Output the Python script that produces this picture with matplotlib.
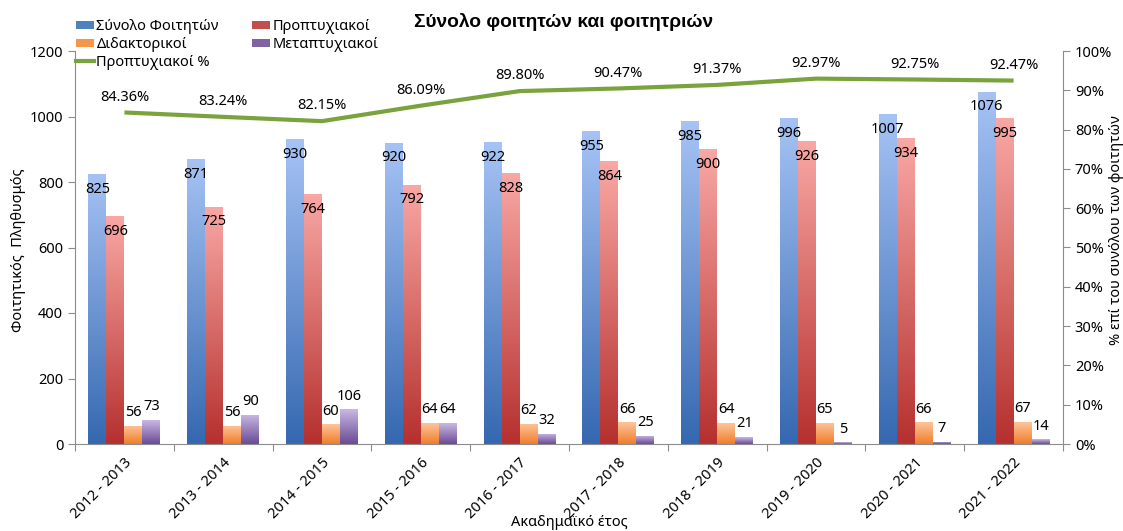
import numpy as np
import matplotlib
matplotlib.use('Agg')
from matplotlib import pyplot as plt
from matplotlib.colors import LinearSegmentedColormap
from matplotlib.patches import Patch
from matplotlib.lines import Line2D
from matplotlib.ticker import PercentFormatter, MultipleLocator

plt.rcParams['font.family'] = ['Noto Sans', 'DejaVu Sans']

years = ['2012 - 2013', '2013 - 2014', '2014 - 2015', '2015 - 2016', '2016 - 2017',
         '2017 - 2018', '2018 - 2019', '2019 - 2020', '2020 - 2021', '2021 - 2022']
total = [825, 871, 930, 920, 922, 955, 985, 996, 1007, 1076]
undergrad = [696, 725, 764, 792, 828, 864, 900, 926, 934, 995]
doctoral = [56, 56, 60, 64, 62, 66, 64, 65, 66, 67]
masters = [73, 90, 106, 64, 32, 25, 21, 5, 7, 14]
undergrad_pct = [84.36, 83.24, 82.15, 86.09, 89.80, 90.47, 91.37, 92.97, 92.75, 92.47]

series = [
    ('Σύνολο Φοιτητών', total, '#4F81BD', ('#3568B0', '#A6C3F5')),
    ('Προπτυχιακοί', undergrad, '#C0504D', ('#B5302E', '#F9A8A5')),
    ('Διδακτορικοί', doctoral, '#F79646', ('#EE7E2A', '#FFC49A')),
    ('Μεταπτυχιακοί', masters, '#8064A2', ('#6A4B94', '#C9B8E4')),
]
green = '#7AA33E'
gray = '#8C8C8C'
fs = 10.5

fig = plt.figure(figsize=(11.23, 5.31), dpi=100)
ax = fig.add_axes([75 / 1123, 87 / 531, 988 / 1123, 393 / 531])
ax.set_zorder(1)

x = np.arange(len(years))
w = 0.182
offsets = (np.arange(4) - 1.5) * w
grad = np.linspace(0, 1, 256).reshape(-1, 1)

for (name, vals, col, (dark, light)), off in zip(series, offsets):
    cmap = LinearSegmentedColormap.from_list(name, [dark, light])
    bars = ax.bar(x + off, vals, w, color='none', edgecolor='none', zorder=2)
    for rect, v in zip(bars, vals):
        bx, bw, bh = rect.get_x(), rect.get_width(), rect.get_height()
        im = ax.imshow(grad, extent=[bx, bx + bw, 0, bh], cmap=cmap,
                       aspect='auto', origin='lower', zorder=2)
        im.set_clip_path(rect)
        dy = -11 if v > 200 else 9.5
        ax.annotate(str(v), (bx + bw / 2, bh), xytext=(0, dy),
                    textcoords='offset points', ha='center', va='center',
                    fontsize=fs, zorder=5)

ax.set_xlim(-0.5, len(years) - 0.5)
ax.set_ylim(0, 1200)
ax.yaxis.set_major_locator(MultipleLocator(200))
ax.set_xticks(np.arange(-0.5, len(years), 1))
ax.set_xticklabels([])
ax.set_xticks(x, minor=True)
ax.set_xticklabels(years, minor=True, rotation=45, ha='right',
                   rotation_mode='anchor', fontsize=fs)
ax.tick_params(axis='x', which='minor', length=0, pad=8)
ax.tick_params(axis='x', which='major', length=5, color=gray)
ax.tick_params(axis='y', length=5, color=gray, labelsize=fs)
for s in ['top', 'right']:
    ax.spines[s].set_visible(False)
for s in ['left', 'bottom']:
    ax.spines[s].set_color(gray)

ax2 = ax.twinx()
ax2.set_zorder(2)
pct = np.array(undergrad_pct) / 100
ax2.plot(x, pct, color=green, lw=3, solid_capstyle='butt')
for xi, p in zip(x, pct):
    ax2.annotate(f'{p * 100:.2f}%', (xi, p), xytext=(0, 11),
                 textcoords='offset points', ha='center', va='center', fontsize=fs)
ax2.set_ylim(0, 1)
ax2.yaxis.set_major_locator(MultipleLocator(0.1))
ax2.yaxis.set_major_formatter(PercentFormatter(1.0, decimals=0))
ax2.tick_params(axis='y', length=5, color=gray, labelsize=fs)
for s in ['top', 'left', 'bottom']:
    ax2.spines[s].set_visible(False)
ax2.spines['right'].set_color(gray)

fig.text(0.502, 1 - 22 / 531, 'Σύνολο φοιτητών και φοιτητριών',
         ha='center', va='center', fontsize=13.8, fontweight='bold',
         family=['Liberation Sans', 'DejaVu Sans'])
fig.text(19 / 1123, 1 - 250 / 531, 'Φοιτητικός  Πληθυσμός', rotation=90,
         ha='center', va='center', fontsize=fs)
fig.text(1116 / 1123, 1 - 230 / 531, '% επί του συνόλου των φοιτητών', rotation=90,
         ha='center', va='center', fontsize=fs)
fig.text(569 / 1123, 1 - 522 / 531, 'Ακαδημαϊκό έτος',
         ha='center', va='center', fontsize=fs)

handles = [Patch(facecolor=series[0][2]), Patch(facecolor=series[2][2]),
           Line2D([], [], color=green, lw=3),
           Patch(facecolor=series[1][2]), Patch(facecolor=series[3][2])]
labels = [series[0][0], series[2][0], 'Προπτυχιακοί %', series[1][0], series[3][0]]
fig.legend(handles, labels, ncol=2, loc='upper left',
           bbox_to_anchor=(76 / 1123, 1 - 19 / 531), frameon=False, fontsize=fs,
           handlelength=1.2, handleheight=0.45, handletextpad=0.2,
           labelspacing=0.2, columnspacing=2.3, borderaxespad=0, borderpad=0)

fig.savefig('out.png', dpi=100)
